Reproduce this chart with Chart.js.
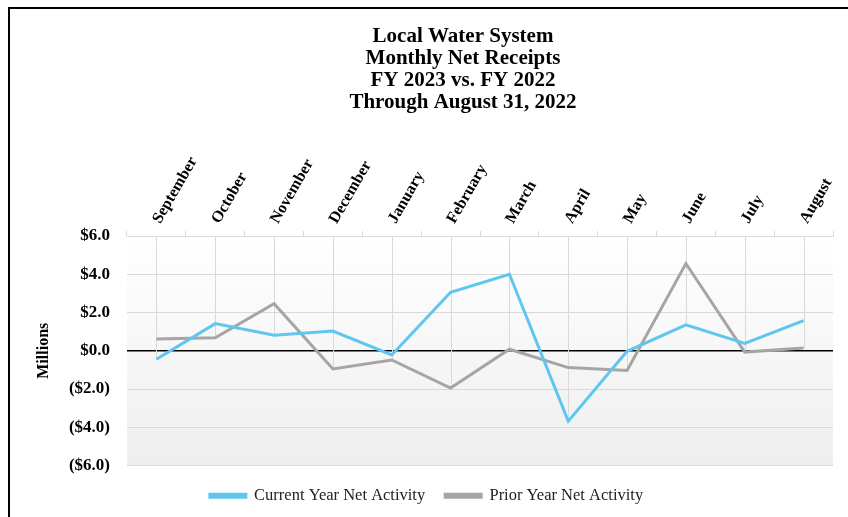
<!DOCTYPE html>
<html><head><meta charset="utf-8">
<script src="https://cdn.jsdelivr.net/npm/chart.js@4/dist/chart.umd.min.js"></script>
<style>html,body{margin:0;padding:0;background:#fff}#wrap{width:848px;height:517px;position:relative}</style>
</head><body><div id="wrap"><canvas id="c" width="848" height="517"></canvas></div>
<script>
const months = ['September','October','November','December','January','February','March','April','May','June','July','August'];
const currentYear = [-0.44, 1.42, 0.81, 1.03, -0.22, 3.06, 4.0, -3.68, -0.03, 1.35, 0.38, 1.58];
const priorYear = [0.62, 0.68, 2.46, -0.95, -0.48, -1.95, 0.08, -0.88, -1.03, 4.56, -0.07, 0.14];
const titleLines = ['Local Water System','Monthly Net Receipts','FY 2023 vs. FY 2022','Through August 31, 2022'];
const seriesNames = ['Current Year Net Activity','Prior Year Net Activity'];
const yMin = -6, yMax = 6, yStep = 2;

const SERIF = "'Liberation Serif', 'Times New Roman', serif";

const bgPlugin = {
  id: 'bg',
  beforeDraw(chart) {
    const {ctx, chartArea: a} = chart;
    const g = ctx.createLinearGradient(0, a.top, 0, a.bottom);
    g.addColorStop(0, '#ffffff');
    g.addColorStop(1, '#eeeeee');
    ctx.save();
    ctx.fillStyle = g;
    ctx.fillRect(a.left, a.top, a.right - a.left, a.bottom - a.top);
    ctx.restore();
  },
  beforeDatasetsDraw(chart) {
    const {ctx, chartArea: a, scales} = chart;
    ctx.save();
    ctx.strokeStyle = '#d9d9d9';
    ctx.lineWidth = 1;
    months.forEach((m, i) => {
      const lo = Math.min(currentYear[i], priorYear[i]);
      const x = Math.round(scales.x.getPixelForValue(i)) + 0.5;
      const y = scales.y.getPixelForValue(lo);
      ctx.beginPath();
      ctx.moveTo(x, a.top);
      ctx.lineTo(x, y);
      ctx.stroke();
    });
    ctx.restore();
  },
  afterDraw(chart) {
    const {ctx} = chart;
    ctx.save();
    ctx.strokeStyle = '#000';
    ctx.lineWidth = 2;
    ctx.beginPath();
    ctx.moveTo(9, 517);
    ctx.lineTo(9, 8);
    ctx.lineTo(848, 8);
    ctx.stroke();
    ctx.fillStyle = '#000';
    ctx.font = "bold 21px " + SERIF;
    ctx.textAlign = 'center';
    ctx.textBaseline = 'middle';
    titleLines.forEach((t, i) => ctx.fillText(t, 463, 37 + i * 22));
    ctx.restore();
  }
};

new Chart(document.getElementById('c'), {
  type: 'line',
  data: {
    labels: months,
    datasets: [
      {label: seriesNames[0], data: currentYear, borderColor: '#5fc6f0', backgroundColor: '#5fc6f0', borderWidth: 3, pointRadius: 0, tension: 0, xAxisID: 'x'},
      {label: seriesNames[1], data: priorYear, borderColor: '#a5a5a5', backgroundColor: '#a5a5a5', borderWidth: 3, pointRadius: 0, tension: 0, xAxisID: 'x'}
    ]
  },
  options: {
    responsive: false,
    animation: false,
    devicePixelRatio: 1,
    layout: {padding: {left: 20, right: 15, top: 123, bottom: 3}},
    scales: {
      x: {
        type: 'category',
        position: 'top',
        offset: true,
        grid: {display: true, drawOnChartArea: false, drawTicks: true, tickLength: 5, offset: true, color: '#d9d9d9'},
        border: {display: true, color: '#d9d9d9', width: 1},
        ticks: {autoSkip: false, minRotation: 60, maxRotation: 60, padding: 4, labelOffset: 17, color: '#000', font: {family: SERIF, size: 16, weight: 'bold'}},
        afterFit(s) { s.height = 113; }
      },
      xb: {
        type: 'category',
        position: 'bottom',
        display: true,
        grid: {display: false},
        border: {display: false},
        ticks: {display: false},
        afterFit(s) { s.height = 2; }
      },
      y: {
        min: yMin, max: yMax,
        border: {display: false},
        grid: {
          drawTicks: false,
          color: c => c.tick && c.tick.value === 0 ? '#000000' : '#d9d9d9',
          lineWidth: c => c.tick && c.tick.value === 0 ? 1.6 : 1
        },
        ticks: {
          stepSize: yStep, padding: 17, color: '#000',
          font: {family: SERIF, size: 17, weight: 'bold'},
          callback: v => v < 0 ? '($' + Math.abs(v).toFixed(1) + ')' : '$' + v.toFixed(1)
        },
        title: {display: true, text: 'Millions', color: '#000', padding: {top: 14, bottom: 0}, font: {family: SERIF, size: 16, weight: 'bold'}},
        afterFit(s) { s.width = 107; }
      }
    },
    plugins: {
      title: {display: false},
      legend: {
        display: true, position: 'bottom',
        labels: {boxWidth: 36, boxHeight: 3, padding: 20, color: '#222', font: {family: SERIF, size: 16.5}}
      },
      tooltip: {enabled: false}
    }
  },
  plugins: [bgPlugin]
});
</script>
</body></html>
